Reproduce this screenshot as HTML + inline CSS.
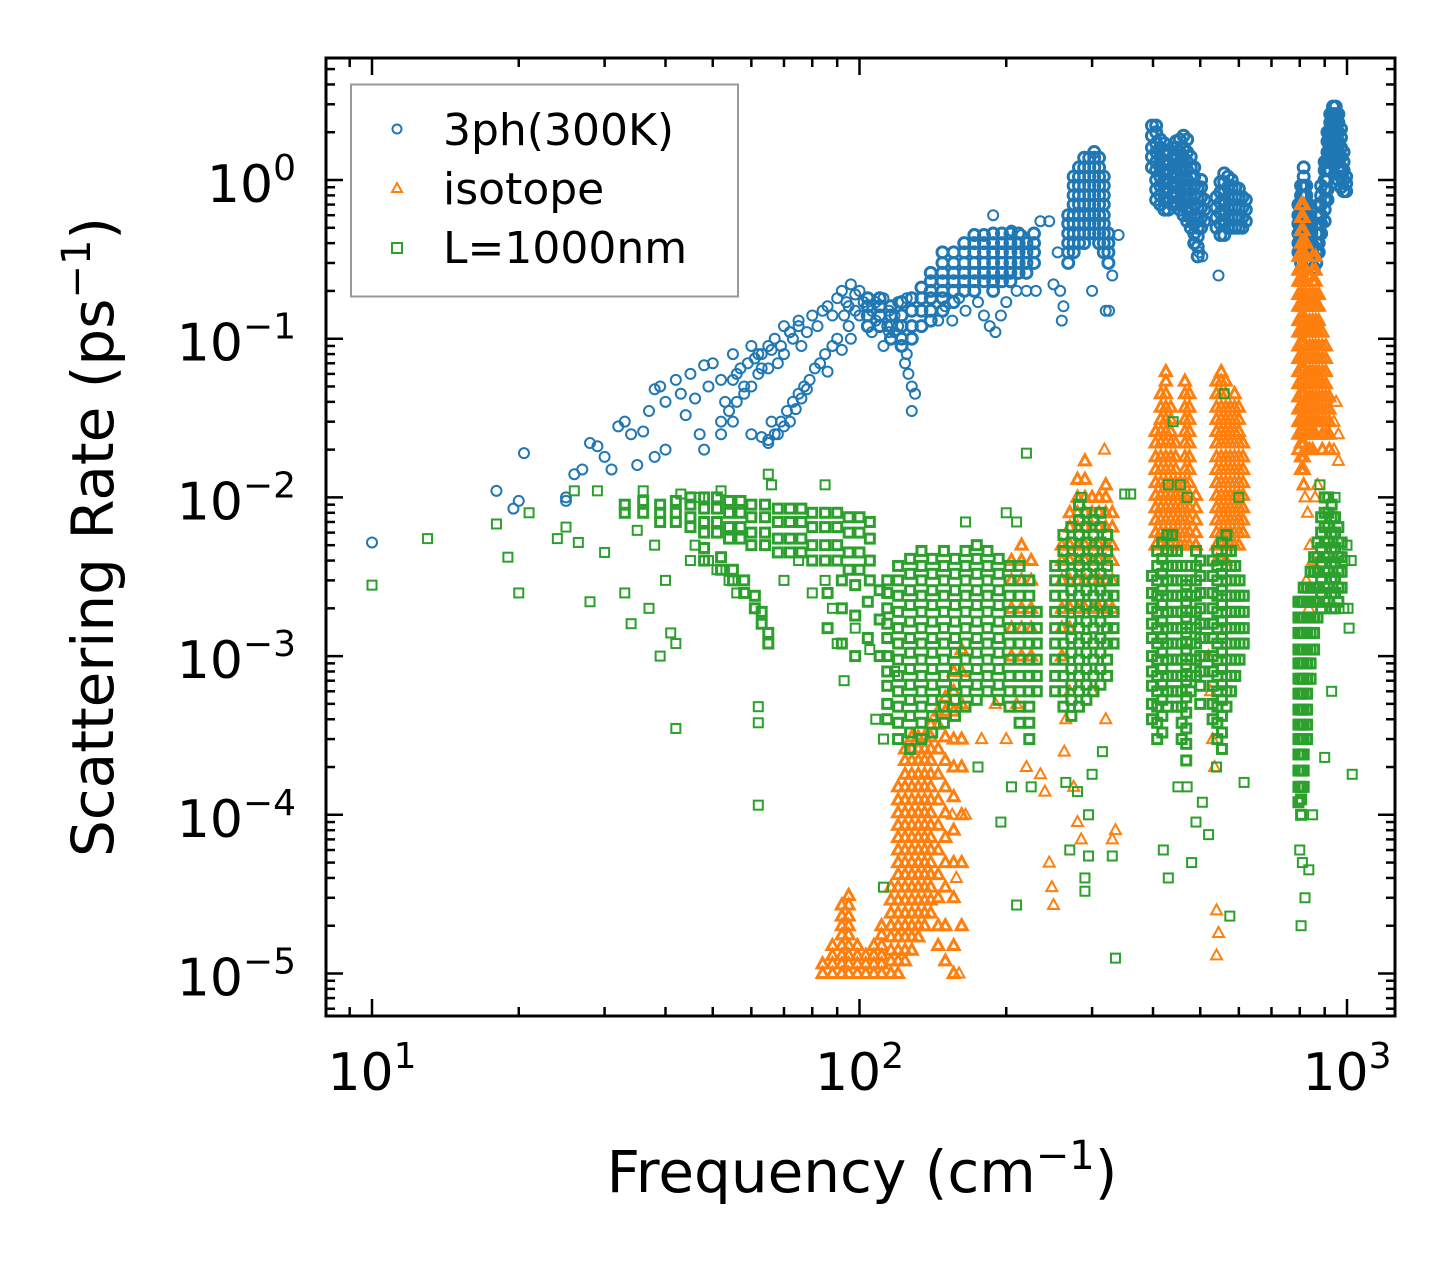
<!DOCTYPE html>
<html><head><meta charset="utf-8"><style>
html,body{margin:0;padding:0;background:#fff;}
svg{display:block;font-family:"DejaVu Sans","Liberation Sans",sans-serif;}
</style></head><body>
<svg id="chart" width="1455" height="1265" viewBox="0 0 1455 1265" xmlns="http://www.w3.org/2000/svg">
<rect x="0" y="0" width="1455" height="1265" fill="#fff"/>
<g id="marks"></g>
<g id="axes"></g>
<g id="legend">
<rect x="351" y="84.5" width="387" height="212" fill="#fff" fill-opacity="0.8" stroke="#999" stroke-width="2"/>
<circle cx="397" cy="129" r="4.5" fill="none" stroke="#1f77b4" stroke-width="2"/>
<text x="443" y="145" font-size="44">3ph(300K)</text>
<path d="M397,183 L402,192 L392,192 Z" fill="none" stroke="#ff7f0e" stroke-width="2"/>
<text x="443" y="204" font-size="44">isotope</text>
<rect x="392" y="243" width="10" height="10" fill="none" stroke="#2ca02c" stroke-width="2"/>
<text x="443" y="263" font-size="44">L=1000nm</text>
</g>
<text x="862" y="1192" font-size="58" text-anchor="middle">Frequency (cm<tspan font-size="40" dy="-23">−1</tspan><tspan dy="23">)</tspan></text>
<text transform="translate(113,537) rotate(-90)" font-size="58" text-anchor="middle">Scattering Rate (ps<tspan font-size="40" dy="-23">−1</tspan><tspan dy="23">)</tspan></text>
</svg>
<script>
const xTickExps = [1, 2, 3];
const yTickExps = [0, -1, -2, -3, -4, -5];
const seriesColors = ["#1f77b4", "#ff7f0e", "#2ca02c"];

const blueData = [[10,5.2e-3],[18,1.1e-2],[19.5,8.5e-3],[20,9.5e-3],[20.5,1.9e-2],[25,1e-2],[25,9.5e-3],[26,1.4e-2],[27,1.5e-2],[28,2.2e-2],[29,2.1e-2],[30,1.8e-2],[31,1.5e-2],[32,2.8e-2],[33,3e-2],[34,2.5e-2],[35,1.6e-2],[36,2.6e-2],[37,3.5e-2],[38,4.8e-2],[39,5e-2],[40,4e-2],[38,1.8e-2],[40,2e-2],[42,5.5e-2],[43,4.5e-2],[44,3.3e-2],[45,6e-2],[46,4.2e-2],[47,2.5e-2],[48,6.8e-2],[49,5e-2],[50,7e-2],[52,5.5e-2],[53,4e-2],[55,8e-2],[56,6e-2],[58,5e-2],[60,9e-2],[62,8e-2],[63,6.5e-2],[65,9e-2],[67,0.1],[70,0.12],[72,0.11],[75,0.13],[48,2e-2],[52,2.5e-2],[55,3e-2],[60,2.5e-2],[65,2.3e-2],[68,2.5e-2],
[80,0.14],[82,0.12],[84,0.15],[86,0.16],[88,0.14],[90,0.18],[92,0.2],[94,0.17],[96,0.22],[98,0.19],[100,0.2],[102,0.17],[104,0.18],[106,0.15],[108,0.17],[110,0.16],[112,0.18],[114,0.12],[116,0.1],[118,0.11],[120,0.12],[122,0.09],[124,0.07],[126,0.06],[128,0.05],[130,0.045],[128,0.035],[125,0.08],[118,0.14],[108,0.13],[100,0.14],[95,0.12],[90,0.1],[88,0.09],[85,0.08],[83,0.07],[81,0.065],[79,0.055],[77,0.05],[75,0.045],[73,0.04],[71,0.035],[69,0.03],[67,0.025],[65,0.022],[63,0.024],[70,0.028],[66,0.03],[72,0.03],[74,0.036],[76,0.042],[78,0.048],[86,0.062],[92,0.085],[96,0.1],[104,0.12],[110,0.14],[115,0.11],[112,0.09],[106,0.11],[73,0.1],[76,0.09],[70,0.08],[68,0.07],[65,0.065],[62,0.06],[60,0.05],[58,0.045],[56,0.04],[54,0.035],[52,0.03],[55,0.055],[57,0.065],[59,0.07],[61,0.075],[63,0.08],[66,0.085],[69,0.09],[72,0.11],[75,0.12],[78,0.11],[95,0.16],[93,0.14],[98,0.15],
[188,0.6],[172,0.45],[160,0.18],[150,0.16],[165,0.15],[175,0.17],[180,0.14],[185,0.12],[190,0.11],[195,0.14],[200,0.17],[210,0.2],[155,0.13],[145,0.13],[120,0.17],[125,0.18],[115,0.15],[220,0.2],[230,0.2],[205,0.48],[215,0.45],
[260,0.13],[262,0.16],[258,0.2],[300,0.2],[320,0.15],[325,0.15],[250,0.22],[255,0.35],[245,0.55],[235,0.55],[330,0.25],[340,0.45],
[488,0.4],[498,0.35],[505,0.33],[545,0.25]];

const blueColumns = [
[104,[0.12,0.14,0.16,0.18]],[110,[0.12,0.14,0.16,0.18]],[116,[0.1,0.12,0.14,0.16]],[122,[0.09,0.1,0.12,0.14,0.17]],[128,[0.1,0.12,0.15,0.18]],[134,[0.12,0.15,0.18,0.21]],
[140,[0.13,0.15,0.18,0.2,0.23,0.26]],[148,[0.15,0.18,0.2,0.23,0.26,0.3,0.35]],[156,[0.17,0.2,0.23,0.26,0.3,0.35]],[164,[0.2,0.23,0.26,0.3,0.35,0.4]],[172,[0.2,0.23,0.26,0.3,0.35,0.4,0.45]],[180,[0.23,0.26,0.3,0.35,0.4,0.45]],[188,[0.2,0.23,0.26,0.3,0.35,0.4,0.46]],[196,[0.23,0.26,0.3,0.35,0.4,0.46]],[204,[0.23,0.26,0.3,0.35,0.4,0.46]],[212,[0.26,0.3,0.35,0.4,0.46]],[220,[0.26,0.3,0.35,0.4]],[228,[0.3,0.35,0.4,0.46]],
[268,[0.3,0.35,0.4,0.46,0.53,0.6]],[275,[0.35,0.4,0.46,0.53,0.6,0.7,0.8,0.92,1.05]],[282,[0.4,0.46,0.53,0.6,0.7,0.8,0.92,1.05,1.2]],[289,[0.4,0.46,0.53,0.6,0.7,0.8,0.92,1.05,1.2,1.38]],[296,[0.46,0.53,0.6,0.7,0.8,0.92,1.05,1.2,1.38]],[303,[0.46,0.53,0.6,0.7,0.8,0.92,1.05,1.2,1.38,1.5]],[310,[0.4,0.46,0.53,0.6,0.7,0.8,0.92,1.05,1.2,1.38]],[317,[0.35,0.4,0.46,0.53,0.6,0.7,0.8,0.92,1.05]],[324,[0.3,0.35,0.4,0.46]],
[398,[1.2,1.4,1.6,1.9,2.2]],[406,[0.75,0.87,1.0,1.15,1.3,1.5,1.7,2.0,2.2]],[414,[0.7,0.8,0.92,1.05,1.2,1.38,1.6,1.8]],[422,[0.65,0.75,0.87,1.0,1.15,1.3,1.5,1.7]],[430,[0.65,0.75,0.87,1.0,1.15,1.3,1.5]],[438,[0.7,0.8,0.92,1.05,1.2,1.38,1.6]],[446,[0.7,0.8,0.92,1.05,1.2,1.38,1.6,1.75]],[454,[0.65,0.75,0.87,1.0,1.15,1.3,1.5,1.8]],[462,[0.6,0.7,0.8,0.92,1.05,1.2,1.38,1.6,1.9]],[470,[0.55,0.65,0.75,0.87,1.0,1.15,1.3,1.5,1.8]],[478,[0.5,0.58,0.67,0.78,0.9,1.05,1.2,1.4]],[486,[0.4,0.46,0.53,0.6,0.7,0.8,0.92,1.05,1.2]],[494,[0.33,0.38,0.44,0.5,0.58,0.67,0.78,0.9]],[502,[0.5,0.58,0.67,0.78,0.9,1.0]],[510,[0.55,0.65,0.75]],
[540,[0.5,0.58,0.67,0.78]],[550,[0.45,0.53,0.62,0.72,0.84,0.97]],[560,[0.45,0.53,0.62,0.72,0.84,0.97,1.1]],[570,[0.5,0.58,0.67,0.78,0.9,1.05]],[580,[0.5,0.58,0.67,0.78,0.9,1.0]],[590,[0.5,0.58,0.67,0.78,0.9]],[600,[0.5,0.58,0.67,0.78,0.88]],[610,[0.5,0.58,0.67,0.78]],[620,[0.55,0.65,0.75]],
[795,[0.35,0.4,0.46,0.53,0.6,0.7]],[805,[0.3,0.35,0.4,0.46,0.53,0.6,0.7,0.8,0.92]],[815,[0.35,0.4,0.46,0.53,0.6,0.7,0.8,0.92,1.05,1.2]],[825,[0.4,0.46,0.53,0.6,0.7,0.8,0.92]],[835,[0.35,0.4,0.46,0.53,0.6,0.7]],[845,[0.3,0.35,0.4,0.46,0.53]],[855,[0.28,0.33,0.38]],[865,[0.3,0.35,0.4,0.46,0.53]],[875,[0.35,0.4,0.46,0.53,0.6,0.7]],[885,[0.46,0.53,0.6,0.7,0.8,0.92]],
[900,[0.55,0.65,0.75,0.87,1.0,1.15,1.3]],[912,[0.75,0.87,1.0,1.15,1.3,1.5,1.75,2.0]],[924,[1.15,1.3,1.5,1.75,2.0,2.3,2.6]],[936,[1.3,1.5,1.75,2.0,2.3,2.6,2.9]],[948,[1.3,1.5,1.75,2.0,2.3,2.6,2.9]],[960,[1.0,1.15,1.3,1.5,1.75,2.0,2.3,2.6]],[972,[0.9,1.05,1.2,1.4,1.6,1.85,2.1]],[984,[0.85,1.0,1.15,1.3,1.5]],[996,[0.85,0.95,1.05]]];

const orangeData = [[160,1e-5],[155,1e-4],[158,4e-5],[165,1e-4],[178,3e-4],[200,3e-4],[210,5e-4],[220,2e-4],[190,5e-4],[240,1.4e-4],[245,5e-5],[248,3.5e-5],[250,2.7e-5],[235,1.8e-4],
[275,1.5e-4],[280,9e-5],[285,7e-5],[330,7e-5],[335,8e-5],[318,2e-2],[265,4e-4],[263,2.5e-4],[270,6e-4],[300,6e-4],[320,4e-4],
[520,1e-3],[525,6e-4],[530,3e-4],[535,2e-4],[540,2.5e-5],[545,1.8e-5],[540,1.3e-5],
[820,0.01],[830,0.008],[840,0.005],[850,0.004],[860,0.01],[825,0.003],[835,0.002],[870,0.012],[940,0.02],[940,0.03],[950,0.04],[960,0.017],[960,0.025]];

const orangeColumns = [
[84,[1e-5,1.15e-5]],[88,[1e-5,1.15e-5,1.3e-5,1.5e-5]],[92,[1e-5,1.15e-5,1.3e-5,1.5e-5,1.75e-5,2e-5,2.3e-5,2.7e-5]],[95,[1e-5,1.15e-5,1.3e-5,1.5e-5,1.75e-5,2e-5,2.3e-5,2.7e-5,3.1e-5]],[99,[1e-5,1.15e-5,1.3e-5,1.5e-5]],[103,[1e-5,1.15e-5,1.3e-5]],[107,[1e-5,1.15e-5,1.3e-5,1.5e-5]],[111,[1e-5,1.15e-5,1.3e-5,1.5e-5,1.75e-5,2e-5]],
[116,[1e-5,1.2e-5,1.4e-5,1.7e-5,2e-5,2.4e-5,2.9e-5,3.5e-5]],
[120,[1e-5,1.2e-5,1.4e-5,1.7e-5,2e-5,2.4e-5,2.9e-5,3.5e-5,4.2e-5,5e-5,6e-5,7.2e-5,8.6e-5,1.03e-4,1.24e-4,1.5e-4]],
[124,[1.2e-5,1.4e-5,1.7e-5,2e-5,2.4e-5,2.9e-5,3.5e-5,4.2e-5,5e-5,6e-5,7.2e-5,8.6e-5,1.03e-4,1.24e-4,1.5e-4,1.8e-4,2.2e-4,2.6e-4]],
[128,[1.4e-5,1.7e-5,2e-5,2.4e-5,2.9e-5,3.5e-5,4.2e-5,5e-5,6e-5,7.2e-5,8.6e-5,1.03e-4,1.24e-4,1.5e-4,1.8e-4,2.2e-4,2.6e-4,3.1e-4]],
[132,[1.7e-5,2e-5,2.4e-5,2.9e-5,3.5e-5,4.2e-5,5e-5,6e-5,7.2e-5,8.6e-5,1.03e-4,1.24e-4,1.5e-4,1.8e-4,2.2e-4,2.6e-4,3.1e-4]],
[136,[2e-5,2.4e-5,2.9e-5,3.5e-5,4.2e-5,5e-5,6e-5,7.2e-5,8.6e-5,1.03e-4,1.24e-4,1.5e-4,1.8e-4,2.2e-4,2.6e-4,3.1e-4]],
[140,[2.4e-5,2.9e-5,3.5e-5,4.2e-5,5e-5,6e-5,7.2e-5,8.6e-5,1.03e-4,1.24e-4,1.5e-4,1.8e-4,2.2e-4,2.6e-4,3.1e-4,3.7e-4]],
[145,[1.5e-5,2e-5,3e-5,4.2e-5,6e-5,8.6e-5,1.24e-4,1.8e-4,2.6e-4,3.7e-4,4.5e-4]],
[150,[1.2e-5,2e-5,3.5e-5,5e-5,7.2e-5,1.03e-4,1.5e-4,2.2e-4,3.1e-4,4.5e-4,5.5e-4]],
[156,[1e-5,1.5e-5,3e-5,5e-5,8e-5,1.3e-4,2e-4,3e-4,4.5e-4,6e-4,8e-4]],
[162,[2e-5,5e-5,1e-4,2e-4,3e-4,5e-4,8e-4,1.1e-3]],
[205,[1e-3,1.5e-3,2e-3,3e-3,4e-3]],[215,[1e-3,1.5e-3,2e-3,3e-3,4e-3,5e-3]],[225,[1e-3,1.5e-3,2e-3,3e-3,4e-3]],
[260,[1e-3,1.5e-3,2e-3,3e-3,4e-3,5e-3]],[270,[1.5e-3,2e-3,3e-3,4e-3,5e-3,6.5e-3,8e-3]],[280,[2e-3,3e-3,4e-3,5e-3,6.5e-3,8e-3,1e-2,1.3e-2]],[290,[2e-3,3e-3,4e-3,5e-3,6.5e-3,8e-3,1e-2,1.3e-2,1.7e-2]],[300,[2e-3,3e-3,4e-3,5e-3,6.5e-3,8e-3,1e-2]],[310,[2e-3,3e-3,4e-3,5e-3,6.5e-3,8e-3,1e-2]],[320,[2e-3,3e-3,4e-3,5e-3,6.5e-3,8e-3,1e-2,1.2e-2]],[330,[2e-3,3e-3,4e-3,5e-3,6.5e-3,8e-3]],
[405,[5e-3,6e-3,7.2e-3,8.6e-3,1.03e-2,1.24e-2,1.5e-2,1.8e-2,2.2e-2,2.6e-2]],
[415,[5e-3,6e-3,7.2e-3,8.6e-3,1.03e-2,1.24e-2,1.5e-2,1.8e-2,2.2e-2,2.6e-2,3.1e-2,3.7e-2,4.5e-2]],
[425,[5e-3,6e-3,7.2e-3,8.6e-3,1.03e-2,1.24e-2,1.5e-2,1.8e-2,2.2e-2,2.6e-2,3.1e-2,3.7e-2,4.5e-2,5.4e-2,6.2e-2]],
[435,[5e-3,6e-3,7.2e-3,8.6e-3,1.03e-2,1.24e-2,1.5e-2,1.8e-2,2.2e-2,2.6e-2,3.1e-2,3.7e-2]],
[445,[5e-3,6e-3,7.2e-3,8.6e-3,1.03e-2,1.24e-2,1.5e-2,1.8e-2,2.2e-2]],
[455,[5e-3,6e-3,7.2e-3,8.6e-3,1.03e-2,1.24e-2]],
[465,[5e-3,6e-3,7.2e-3,8.6e-3,1.03e-2,1.24e-2,1.5e-2,1.8e-2,2.2e-2,2.6e-2,3.1e-2,3.7e-2,4.5e-2,5.4e-2]],
[475,[5e-3,6e-3,7.2e-3,8.6e-3,1.03e-2,1.24e-2,1.5e-2,1.8e-2,2.2e-2,2.6e-2,3.1e-2,3.7e-2,4.5e-2]],
[490,[5e-3,6e-3,7.2e-3,8.6e-3,1.03e-2]],
[540,[4e-3,5e-3,6e-3,7.2e-3,8.6e-3,1.03e-2,1.24e-2,1.5e-2,1.8e-2,2.2e-2,2.6e-2,3.1e-2,3.7e-2,4.5e-2,5.4e-2]],
[552,[4e-3,5e-3,6e-3,7.2e-3,8.6e-3,1.03e-2,1.24e-2,1.5e-2,1.8e-2,2.2e-2,2.6e-2,3.1e-2,3.7e-2,4.5e-2,5.4e-2,6.2e-2]],
[564,[4e-3,5e-3,6e-3,7.2e-3,8.6e-3,1.03e-2,1.24e-2,1.5e-2,1.8e-2,2.2e-2,2.6e-2,3.1e-2,3.7e-2,4.5e-2,5.4e-2]],
[576,[5e-3,6e-3,7.2e-3,8.6e-3,1.03e-2,1.24e-2,1.5e-2,1.8e-2,2.2e-2,2.6e-2,3.1e-2,3.7e-2]],
[588,[5e-3,6e-3,7.2e-3,8.6e-3,1.03e-2,1.24e-2,1.5e-2,1.8e-2,2.2e-2,2.6e-2,3.1e-2,3.7e-2,4.5e-2]],
[600,[5e-3,6e-3,7.2e-3,8.6e-3,1.03e-2,1.24e-2,1.5e-2,1.8e-2,2.2e-2,2.6e-2,3.1e-2,3.7e-2]],
[612,[6e-3,7.2e-3,8.6e-3,1.03e-2,1.24e-2,1.5e-2,1.8e-2,2.2e-2]],
[795,[0.02,0.025,0.03,0.036,0.043,0.052,0.062,0.075,0.09,0.11,0.13,0.16,0.19,0.23,0.27,0.33]],
[805,[0.015,0.018,0.022,0.026,0.031,0.037,0.045,0.054,0.065,0.078,0.094,0.11,0.135,0.16,0.19,0.23,0.28,0.34,0.4,0.48,0.58,0.7]],
[815,[0.012,0.015,0.018,0.022,0.026,0.031,0.037,0.045,0.054,0.065,0.078,0.094,0.11,0.135,0.16,0.19,0.23,0.28,0.34,0.4,0.48,0.58,0.7]],
[825,[0.02,0.025,0.03,0.036,0.043,0.052,0.062,0.075,0.09,0.11,0.13,0.16,0.19,0.23,0.27,0.33,0.4]],
[838,[0.02,0.025,0.03,0.036,0.043,0.052,0.062,0.075,0.09,0.11,0.13,0.16,0.19]],
[850,[0.02,0.025,0.03,0.036,0.043,0.052,0.062,0.075,0.09,0.11,0.13,0.16,0.19,0.23,0.27,0.33]],
[862,[0.025,0.03,0.036,0.043,0.052,0.062,0.075,0.09,0.11,0.13,0.16,0.19,0.23,0.27,0.33]],
[875,[0.03,0.036,0.043,0.052,0.062,0.075,0.09,0.11,0.13,0.16,0.19]],
[890,[0.02,0.025,0.03,0.036,0.043,0.052,0.062,0.075,0.09,0.11]],
[905,[0.025,0.03,0.036,0.043,0.052,0.062,0.075,0.09]],
[920,[0.02,0.025,0.03,0.036,0.043]]];

const greenData = [[10,2.8e-3],[13,5.5e-3],[18,6.8e-3],[19,4.2e-3],[20,2.5e-3],[21,8e-3],[24,5.5e-3],[25,6.5e-3],[26,1.1e-2],[26.5,5.2e-3],[28,2.2e-3],[29,1.1e-2],[30,4.5e-3],[33,2.5e-3],[34,1.6e-3],[35,6.2e-3],[36,1.1e-2],[37,2e-3],[38,5e-3],[39,1e-3],[40,3e-3],[41,1.4e-3],[42,1.2e-3],[42,3.5e-4],[43,1.05e-2],[45,4e-3],[46,5e-3],[47,1e-2],[49,4e-3],[51,3.5e-3],[52,1.1e-2],[54,3e-3],[56,2.5e-3],[62,4.8e-4],[62,3.8e-4],[62,1.15e-4],[65,1.4e-2],[66,1.2e-2],[70,3e-3],[75,4e-3],[80,2.5e-3],[85,1.2e-2],[85,3e-3],[88,2e-3],[90,1.2e-3],[93,7e-4],[98,1.5e-3],[105,1.1e-3],[108,4e-4],[112,3e-4],[112,3.5e-5],[115,1e-3],[118,8e-4],
[220,1.9e-2],[200,8e-3],[210,7e-3],[165,7e-3],[175,2e-4],[205,1.5e-4],[195,9e-5],[210,2.7e-5],[225,1.5e-4],
[270,6e-5],[290,4e-5],[295,5.5e-5],[290,3.3e-5],[330,5.5e-5],[335,1.25e-5],[280,1.4e-4],[300,1.8e-4],[315,2.5e-4],[265,1.6e-4],[360,1.05e-2],[350,1.05e-2],[295,1e-4],[285,1e-2],
[440,3e-2],[430,1.2e-2],[455,1.2e-2],[470,1e-2],[420,6e-5],[430,4e-5],[480,5e-5],[470,1.5e-4],[490,9e-5],[505,1.2e-4],[520,7.5e-5],[575,2.3e-5],[615,1.6e-4],[560,4.5e-2],[540,2e-4],[600,1e-2],[450,1.5e-4],
[1025,1.8e-4],[810,5e-5],[805,2e-5],[800,6e-5],[820,3e-5],[835,4.5e-5],[850,1e-4],[900,2.3e-4],[930,6e-4],[945,1e-2],[880,1.2e-2],[1000,5e-3],[1005,2e-3],[1010,1.5e-3],[1020,4e-3],[990,4e-3],[985,2e-3]];

const greenColumns = [
[33,[8e-3,9e-3]],[36,[8e-3,9.5e-3]],[39,[7e-3,8e-3,9e-3]],[42,[7e-3,8e-3,9.5e-3]],[45,[6.5e-3,7.5e-3,9e-3,1e-2]],[48,[6e-3,7e-3,8.5e-3,1e-2]],[51,[6e-3,7e-3,8.5e-3,1e-2]],[54,[5.5e-3,6.5e-3,8e-3,9.5e-3]],[57,[5.5e-3,6.5e-3,8e-3,9.5e-3]],[60,[5e-3,6e-3,7.5e-3,9e-3]],[64,[5e-3,6e-3,7.5e-3,9e-3]],[68,[4.5e-3,5.5e-3,7e-3,8.5e-3]],[72,[4.5e-3,5.5e-3,7e-3,8.5e-3]],[76,[4.5e-3,5.5e-3,7e-3,8.5e-3]],[80,[4e-3,5e-3,6.5e-3,8e-3]],[85,[4e-3,5e-3,6.5e-3,8e-3]],[90,[4e-3,5e-3,6.5e-3,8e-3]],[95,[3.5e-3,4.5e-3,6e-3,7.5e-3]],[100,[3.5e-3,4.5e-3,6e-3,7.5e-3]],[105,[3e-3,4e-3,5.5e-3,7e-3]],
[48,[4e-3,4.8e-3]],[52,[3.5e-3,4.2e-3]],[55,[3e-3,3.5e-3]],[58,[2.5e-3,3e-3]],[61,[2e-3,2.4e-3]],[63,[1.6e-3,1.9e-3]],[65,[1.2e-3,1.4e-3]],
[86,[1.5e-3,2.5e-3]],[92,[1.2e-3,2e-3,3e-3]],[98,[1e-3,1.8e-3,2.8e-3]],[104,[1.3e-3,2.2e-3]],[110,[1e-3,1.7e-3,2.6e-3]],
[114,[4e-4,5e-4,6.5e-4,8e-4,1e-3,1.3e-3,1.6e-3,2e-3,2.5e-3,3e-3]],
[120,[3e-4,3.8e-4,4.8e-4,6e-4,7.5e-4,9.5e-4,1.2e-3,1.5e-3,1.9e-3,2.4e-3,3e-3,3.7e-3]],
[127,[2.6e-4,3.3e-4,4.2e-4,5.3e-4,6.6e-4,8.3e-4,1.05e-3,1.3e-3,1.65e-3,2.1e-3,2.6e-3,3.3e-3,4.1e-3]],
[134,[3e-4,3.8e-4,4.8e-4,6e-4,7.5e-4,9.5e-4,1.2e-3,1.5e-3,1.9e-3,2.4e-3,3e-3,3.7e-3,4.6e-3]],
[141,[3.3e-4,4.2e-4,5.3e-4,6.6e-4,8.3e-4,1.05e-3,1.3e-3,1.65e-3,2.1e-3,2.6e-3,3.3e-3,4.1e-3]],
[149,[3.8e-4,4.8e-4,6e-4,7.5e-4,9.5e-4,1.2e-3,1.5e-3,1.9e-3,2.4e-3,3e-3,3.7e-3,4.6e-3]],
[157,[4.2e-4,5.3e-4,6.6e-4,8.3e-4,1.05e-3,1.3e-3,1.65e-3,2.1e-3,2.6e-3,3.3e-3,4.1e-3]],
[165,[4.8e-4,6e-4,7.5e-4,9.5e-4,1.2e-3,1.5e-3,1.9e-3,2.4e-3,3e-3,3.7e-3,4.6e-3]],
[174,[5.3e-4,6.6e-4,8.3e-4,1.05e-3,1.3e-3,1.65e-3,2.1e-3,2.6e-3,3.3e-3,4.1e-3,5e-3]],
[183,[6e-4,7.5e-4,9.5e-4,1.2e-3,1.5e-3,1.9e-3,2.4e-3,3e-3,3.7e-3,4.6e-3]],
[193,[5.3e-4,6.6e-4,8.3e-4,1.05e-3,1.3e-3,1.65e-3,2.1e-3,2.6e-3,3.3e-3,4.1e-3]],
[203,[4.8e-4,6e-4,7.5e-4,9.5e-4,1.2e-3,1.5e-3,1.9e-3,2.4e-3,3e-3,3.7e-3]],
[213,[3.8e-4,4.8e-4,6e-4,7.5e-4,9.5e-4,1.2e-3,1.5e-3,1.9e-3,2.4e-3,3e-3,3.7e-3]],
[223,[3e-4,3.8e-4,4.8e-4,6e-4,7.5e-4,9.5e-4,1.2e-3,1.5e-3,1.9e-3,2.4e-3,3e-3]],
[231,[6e-4,7.5e-4,9.5e-4,1.2e-3,1.5e-3,1.9e-3]],
[252,[6e-4,7.5e-4,9.5e-4,1.2e-3,1.5e-3,1.9e-3,2.4e-3,3e-3,3.7e-3]],
[262,[4.8e-4,6e-4,7.5e-4,9.5e-4,1.2e-3,1.5e-3,1.9e-3,2.4e-3,3e-3,3.7e-3,4.6e-3,5.8e-3]],
[272,[4.2e-4,5.3e-4,6.6e-4,8.3e-4,1.05e-3,1.3e-3,1.65e-3,2.1e-3,2.6e-3,3.3e-3,4.1e-3,5.2e-3,6.5e-3]],
[282,[4.8e-4,6e-4,7.5e-4,9.5e-4,1.2e-3,1.5e-3,1.9e-3,2.4e-3,3e-3,3.7e-3,4.6e-3,5.8e-3,7.2e-3,9e-3]],
[292,[5.3e-4,6.6e-4,8.3e-4,1.05e-3,1.3e-3,1.65e-3,2.1e-3,2.6e-3,3.3e-3,4.1e-3,5.2e-3,6.5e-3,8e-3]],
[302,[6e-4,7.5e-4,9.5e-4,1.2e-3,1.5e-3,1.9e-3,2.4e-3,3e-3,3.7e-3,4.6e-3,5.8e-3,7.2e-3]],
[312,[6.6e-4,8.3e-4,1.05e-3,1.3e-3,1.65e-3,2.1e-3,2.6e-3,3.3e-3,4.1e-3,5.2e-3,6.5e-3,8e-3]],
[322,[7.5e-4,9.5e-4,1.2e-3,1.5e-3,1.9e-3,2.4e-3,3e-3,3.7e-3,4.6e-3,5.8e-3]],
[332,[1.2e-3,1.5e-3,1.9e-3,2.4e-3,3e-3]],
[398,[4e-4,5e-4,6.5e-4,8e-4,1e-3,1.3e-3,1.6e-3,2e-3,2.5e-3,3.2e-3]],
[408,[3e-4,3.8e-4,4.8e-4,6e-4,7.5e-4,9.5e-4,1.2e-3,1.5e-3,1.9e-3,2.4e-3,3e-3,3.7e-3,4.6e-3]],
[418,[3.3e-4,4.2e-4,5.3e-4,6.6e-4,8.3e-4,1.05e-3,1.3e-3,1.65e-3,2.1e-3,2.6e-3,3.3e-3,4.1e-3,5.2e-3]],
[428,[4.8e-4,6e-4,7.5e-4,9.5e-4,1.2e-3,1.5e-3,1.9e-3,2.4e-3,3e-3,3.7e-3,4.6e-3,5.8e-3]],
[438,[6e-4,7.5e-4,9.5e-4,1.2e-3,1.5e-3,1.9e-3,2.4e-3,3e-3,3.7e-3,4.6e-3,5.8e-3]],
[448,[4.8e-4,6e-4,7.5e-4,9.5e-4,1.2e-3,1.5e-3,1.9e-3,2.4e-3,3e-3,3.7e-3,4.6e-3]],
[458,[3e-4,3.8e-4,4.8e-4,6e-4,7.5e-4,9.5e-4,1.2e-3,1.5e-3,1.9e-3,2.4e-3,3e-3,3.7e-3]],
[468,[2.2e-4,2.8e-4,3.5e-4,4.4e-4,5.5e-4,7e-4,8.8e-4,1.1e-3,1.4e-3,1.75e-3,2.2e-3,2.8e-3]],
[478,[6e-4,7.5e-4,9.5e-4,1.2e-3,1.5e-3,1.9e-3,2.4e-3,3e-3,3.7e-3]],
[490,[7.5e-4,9.5e-4,1.2e-3,1.5e-3,1.9e-3,2.4e-3,3e-3,3.7e-3,4.6e-3]],
[500,[5e-4,6.5e-4,8e-4,1e-3,1.3e-3,1.6e-3,2e-3,2.5e-3,3.2e-3,4e-3]],
[510,[8e-4,1e-3,1.3e-3,1.6e-3]],
[530,[4e-4,5e-4,6.5e-4,8e-4,1e-3,1.3e-3,1.6e-3,2e-3,2.5e-3,3.2e-3,4e-3]],
[542,[3e-4,3.8e-4,4.8e-4,6e-4,7.5e-4,9.5e-4,1.2e-3,1.5e-3,1.9e-3,2.4e-3,3e-3,3.7e-3,4.6e-3]],
[554,[2.6e-4,3.3e-4,4.2e-4,5.3e-4,6.6e-4,8.3e-4,1.05e-3,1.3e-3,1.65e-3,2.1e-3,2.6e-3,3.3e-3,4.1e-3,5.2e-3]],
[566,[4.8e-4,6e-4,7.5e-4,9.5e-4,1.2e-3,1.5e-3,1.9e-3,2.4e-3,3e-3,3.7e-3,4.6e-3,5.8e-3]],
[578,[6e-4,7.5e-4,9.5e-4,1.2e-3,1.5e-3,1.9e-3,2.4e-3,3e-3,3.7e-3,4.6e-3]],
[590,[7.5e-4,9.5e-4,1.2e-3,1.5e-3,1.9e-3,2.4e-3,3e-3,3.7e-3]],
[602,[9.5e-4,1.2e-3,1.5e-3,1.9e-3,2.4e-3,3e-3]],
[614,[1.2e-3,1.5e-3,1.9e-3,2.4e-3]],
[795,[1.2e-4,1.5e-4,1.9e-4,2.4e-4,3e-4,3.7e-4,4.6e-4,5.8e-4,7.2e-4,9e-4,1.1e-3,1.4e-3,1.75e-3,2.2e-3]],
[805,[1e-4,1.25e-4,1.5e-4,1.9e-4,2.4e-4,3e-4,3.7e-4,4.6e-4,5.8e-4,7.2e-4,9e-4,1.1e-3,1.4e-3,1.75e-3,2.2e-3]],
[815,[1.5e-4,1.9e-4,2.4e-4,3e-4,3.7e-4,4.6e-4,5.8e-4,7.2e-4,9e-4,1.1e-3,1.4e-3,1.75e-3,2.2e-3,2.7e-3]],
[828,[3e-4,3.7e-4,4.6e-4,5.8e-4,7.2e-4,9e-4,1.1e-3,1.4e-3,1.75e-3,2.2e-3,2.7e-3]],
[842,[7.2e-4,9e-4,1.1e-3,1.4e-3,1.75e-3,2.2e-3,2.7e-3,3.4e-3]],
[856,[1.1e-3,1.4e-3,1.75e-3,2.2e-3,2.7e-3,3.4e-3,4.2e-3]],
[870,[1.75e-3,2.2e-3,2.7e-3,3.4e-3,4.2e-3,5.2e-3]],
[885,[2e-3,2.5e-3,3.1e-3,3.9e-3,4.8e-3,6e-3,7.5e-3]],
[900,[2.2e-3,2.7e-3,3.4e-3,4.2e-3,5.2e-3,6.5e-3,8e-3,1e-2]],
[915,[2.2e-3,2.7e-3,3.4e-3,4.2e-3,5.2e-3,6.5e-3,8e-3,1e-2]],
[930,[2e-3,2.5e-3,3.1e-3,3.9e-3,4.8e-3,6e-3,7.5e-3,9e-3]],
[945,[2e-3,2.5e-3,3.1e-3,3.9e-3,4.8e-3,6e-3,7.5e-3]],
[960,[2.2e-3,2.7e-3,3.4e-3,4.2e-3,5.2e-3,6.5e-3]],
[975,[2.7e-3,3.4e-3,4.2e-3,5.2e-3]]];

const NS = "http://www.w3.org/2000/svg";
const L = 326, R = 1395, T = 58, B = 1016;
const X1 = 372, XDEC = 487.5, Y0 = 180, YDEC = 158.7;
function xScale(v){ return X1 + (Math.log10(v) - 1) * XDEC; }
function yScale(v){ return Y0 - Math.log10(v) * YDEC; }
function mk(tag, attrs){ const e = document.createElementNS(NS, tag); for (const k in attrs) e.setAttribute(k, attrs[k]); return e; }
function expand(points, columns){
  const out = points.map(p => [p[0], p[1], false]);
  columns.forEach(c => c[1].forEach(r => out.push([c[0], r, true])));
  return out;
}

const marks = document.getElementById('marks');
const clip = mk('clipPath', {id:'pc'}); clip.appendChild(mk('rect',{x:L,y:T,width:R-L,height:B-T}));
marks.appendChild(clip); marks.setAttribute('clip-path','url(#pc)');

const gB = mk('g', {});


expand(blueData, blueColumns).forEach(d => {
  const c = mk('circle', {cx:xScale(d[0]), cy:yScale(d[1]), r:d[2] ? 5.5 : 5, fill:'none', stroke:seriesColors[0], 'stroke-width':d[2] ? 3 : 2});
  
  
  gB.appendChild(c);
});
marks.appendChild(gB);
const gO = mk('g', {});


expand(orangeData, orangeColumns).forEach(d => {
  const x = xScale(d[0]), y = yScale(d[1]);
  const p = mk('path', {d:`M${x},${y-6} L${x+5.5},${y+4} L${x-5.5},${y+4} Z`, fill:'none', stroke:seriesColors[1], 'stroke-width':d[2] ? 3 : 2});
  
  
  gO.appendChild(p);
});
marks.appendChild(gO);
const gG = mk('g', {});


expand(greenData, greenColumns).forEach(d => {
  const x = xScale(d[0]), y = yScale(d[1]);
  const s = mk('rect', {x:x-4.5, y:y-4.5, width:9, height:9, fill:'none', stroke:seriesColors[2], 'stroke-width':d[2] ? 3 : 2});
  
  
  gG.appendChild(s);
});
marks.appendChild(gG);

const axes = document.getElementById('axes');
const frame = mk('rect', {x:L, y:T, width:R-L, height:B-T, fill:'none', stroke:'#000', 'stroke-width':3});


axes.appendChild(frame);
function tick(x1,y1,x2,y2){ axes.appendChild(mk('line',{x1:x1,y1:y1,x2:x2,y2:y2,stroke:'#000','stroke-width':2.5})); }
for (let e = 0; e <= 3; e++) {
  for (let m = 1; m <= 9; m++) {
    const v = m * Math.pow(10, e); const x = xScale(v);
    if (x < L + 1 || x > R - 1) continue;
    const len = m === 1 ? 17 : 9;
    tick(x, B, x, B - len); tick(x, T, x, T + len);
  }
}
for (let e = -6; e <= 1; e++) {
  for (let m = 1; m <= 9; m++) {
    const v = m * Math.pow(10, e); const y = yScale(v);
    if (y < T + 1 || y > B - 1) continue;
    const len = m === 1 ? 17 : 9;
    tick(L, y, L + len, y); tick(R, y, R - len, y);
  }
}
xTickExps.forEach(e => {
  const t = mk('text', {x:xScale(Math.pow(10,e)), y:1090, 'font-size':52, 'text-anchor':'middle'});
  
  
  t.innerHTML = `10<tspan font-size="36" dy="-22">${e}</tspan>`;
  axes.appendChild(t);
});
yTickExps.forEach(e => {
  const t = mk('text', {x:296, y:yScale(Math.pow(10,e)) + 22, 'font-size':52, 'text-anchor':'end'});
  
  
  const s = e === 0 ? '0' : '−' + Math.abs(e);
  t.innerHTML = `10<tspan font-size="36" dy="-22">${s}</tspan>`;
  axes.appendChild(t);
});
</script>
</body></html>
